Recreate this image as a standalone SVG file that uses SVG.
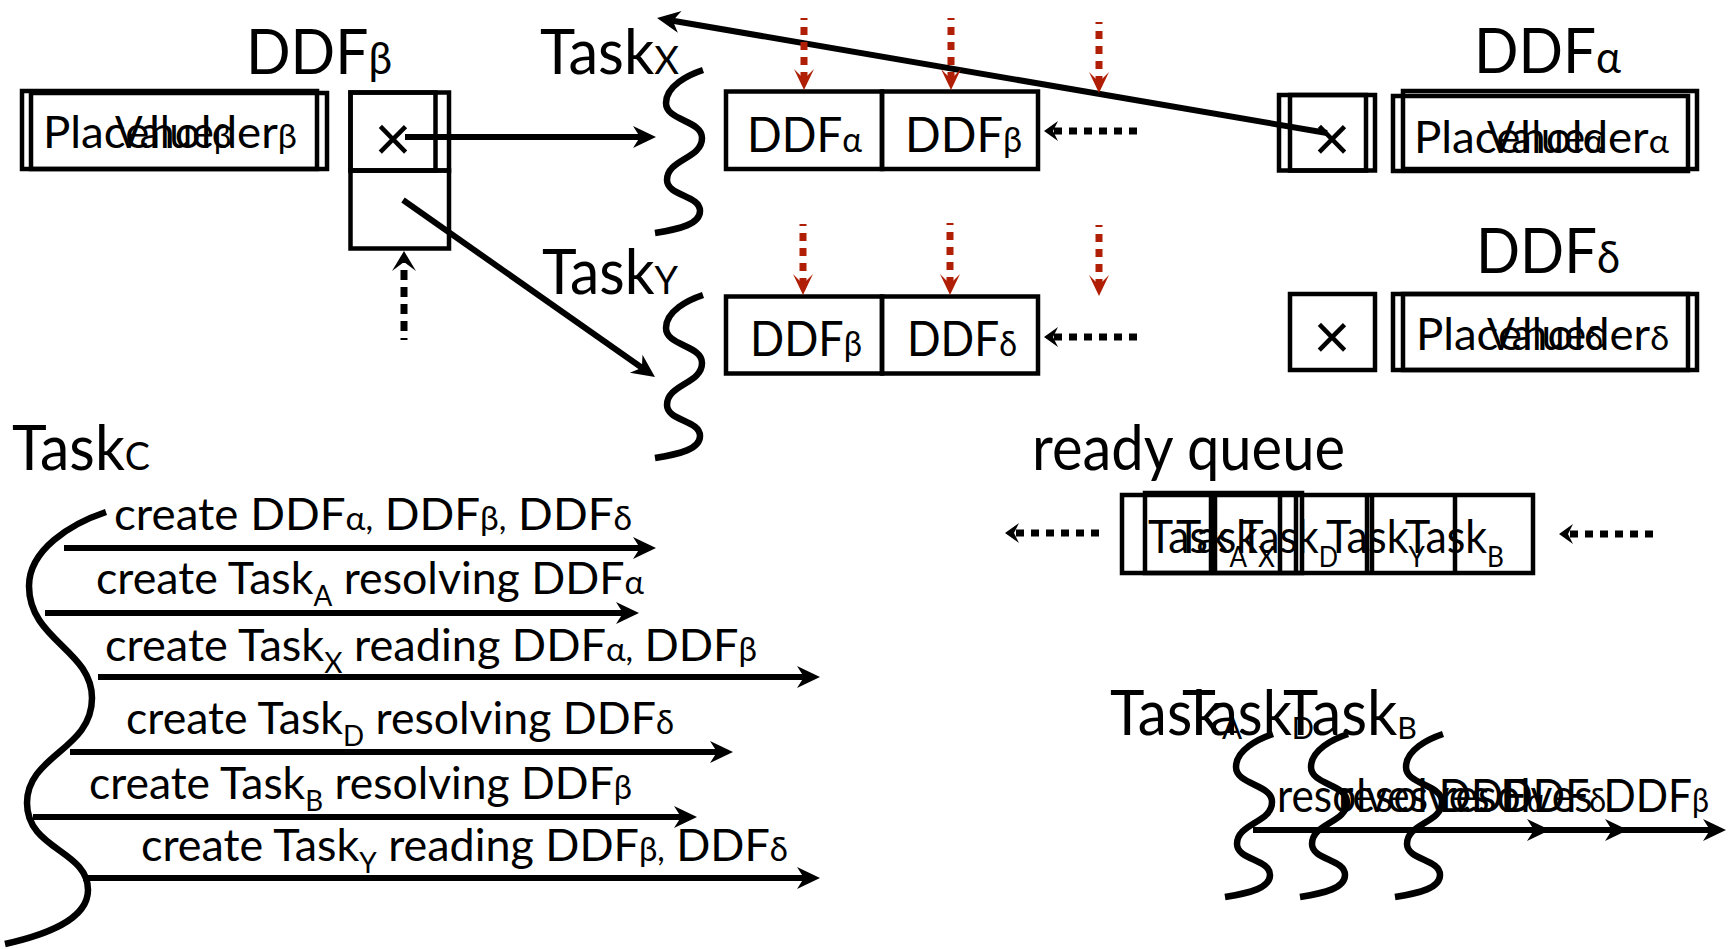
<svg xmlns="http://www.w3.org/2000/svg" width="1734" height="949" viewBox="0 0 1734 949">
<defs>
<style>
text { font-family: Lato, 'Liberation Sans', sans-serif; fill: #000; }
.box { fill: none; stroke: #000; stroke-width: 4.5; }
.ln { fill: none; stroke: #000; stroke-width: 6; }
.wave { fill: none; stroke: #000; stroke-width: 6.5; }
.red { fill: none; stroke: #b01e05; stroke-width: 7; stroke-dasharray: 8 7; stroke-dashoffset: 6; }
.dot { fill: none; stroke: #000; stroke-width: 7; stroke-dasharray: 8 7; }
.big { font-size: 61px; }
.mid { font-size: 45px; }
.cell { font-size: 48px; }
.ph { font-size: 44px; }
.rq { font-size: 46px; }
.g1 { font-size: 44px; }
.g2 { font-size: 35px; }
.g3 { font-size: 33px; }
.sb { font-size: 28px; }
.x { font-size: 64px; text-anchor: middle; font-family: 'Liberation Sans', sans-serif; }
</style>
<marker id="ah" viewBox="-1 -12 26 24" markerWidth="26" markerHeight="24" refX="7" refY="0" orient="auto" markerUnits="userSpaceOnUse"><path d="M0,-11 L23,0 L0,11 L7,0 Z" fill="#000"/></marker>
<marker id="rh" viewBox="-1 -11 23 22" markerWidth="23" markerHeight="22" refX="10" refY="0" orient="auto" markerUnits="userSpaceOnUse"><path d="M0,-10 L21,0 L0,10 L10,0 Z" fill="#b01e05"/></marker>
<marker id="dh" viewBox="-1 -11 16 22" markerWidth="16" markerHeight="22" refX="5" refY="0" orient="auto" markerUnits="userSpaceOnUse"><path d="M0,-10 L14,0 L0,10 L5,0 Z" fill="#000"/></marker>
<marker id="uh" viewBox="-1 -13 23 26" markerWidth="23" markerHeight="26" refX="9" refY="0" orient="auto" markerUnits="userSpaceOnUse"><path d="M0,-12 L20,0 L0,12 L9,0 Z" fill="#000"/></marker>
<path id="wv" d="M0,0 C-15,5 -37,16 -37,33 C-37,51 -1,50 -1,68 C-1,89 -36,89 -36,110 C-36,126 -3,125 -3,141 C-3,154 -23,159 -48,163"/>
</defs>

<g id="ddf-beta">
<text class="big" x="246" y="74" textLength="146" lengthAdjust="spacingAndGlyphs">DDF<tspan class="g1">β</tspan></text>
<rect class="box" x="22" y="91" width="295" height="78"/>
<rect class="box" x="31" y="93" width="296" height="76"/>
<text class="ph" x="43" y="148" textLength="254" lengthAdjust="spacingAndGlyphs">Placeholder<tspan class="g3">β</tspan></text>
<text class="ph" x="115" y="148" textLength="116" lengthAdjust="spacingAndGlyphs">Value<tspan class="g3">β</tspan></text>
<rect class="box" x="350.5" y="92.5" width="98.5" height="78"/>
<rect class="box" x="350.5" y="92.5" width="85" height="78"/>
<rect class="box" x="350.5" y="170.5" width="98.5" height="78"/>
<text class="x" x="393" y="161">×</text>
</g>

<g id="task-x">
<text class="big" x="540" y="74" textLength="139" lengthAdjust="spacingAndGlyphs">Task<tspan font-size="39">X</tspan></text>
<use href="#wv" class="wave" transform="translate(703,70)"/>
<rect class="box" x="726" y="91.5" width="156" height="77.5"/>
<rect class="box" x="882" y="91.5" width="156" height="77.5"/>
<text class="cell" x="747" y="152" textLength="115" lengthAdjust="spacingAndGlyphs">DDF<tspan class="g2">α</tspan></text>
<text class="cell" x="905" y="152" textLength="117" lengthAdjust="spacingAndGlyphs">DDF<tspan class="g2">β</tspan></text>
</g>

<g id="task-y">
<text class="big" x="542" y="294" textLength="136" lengthAdjust="spacingAndGlyphs">Task<tspan font-size="39">Y</tspan></text>
<use href="#wv" class="wave" transform="translate(703,295)"/>
<rect class="box" x="726" y="296.5" width="156" height="77"/>
<rect class="box" x="882" y="296.5" width="156" height="77"/>
<text class="cell" x="750" y="356" textLength="112" lengthAdjust="spacingAndGlyphs">DDF<tspan class="g2">β</tspan></text>
<text class="cell" x="907" y="356" textLength="110" lengthAdjust="spacingAndGlyphs">DDF<tspan class="g2">δ</tspan></text>
</g>

<g id="ddf-alpha">
<text class="big" x="1474" y="73" textLength="147" lengthAdjust="spacingAndGlyphs">DDF<tspan class="g1">α</tspan></text>
<rect class="box" x="1279" y="95" width="87" height="75.5"/>
<rect class="box" x="1290" y="95" width="85" height="75.5"/>
<text class="x" x="1332" y="161">×</text>
<rect class="box" x="1393" y="96" width="295" height="75"/>
<rect class="box" x="1403" y="91" width="294" height="78"/>
<text class="ph" x="1414" y="153" textLength="255" lengthAdjust="spacingAndGlyphs">Placeholder<tspan class="g3">α</tspan></text>
<text class="ph" x="1487" y="153" textLength="116" lengthAdjust="spacingAndGlyphs">Value<tspan class="g3">α</tspan></text>
</g>

<g id="ddf-delta">
<text class="big" x="1476" y="273" textLength="144" lengthAdjust="spacingAndGlyphs">DDF<tspan class="g1">δ</tspan></text>
<rect class="box" x="1290" y="294" width="85" height="76"/>
<text class="x" x="1332" y="359">×</text>
<rect class="box" x="1393" y="294" width="295" height="76"/>
<rect class="box" x="1403" y="294" width="294" height="76"/>
<text class="ph" x="1416" y="350" textLength="253" lengthAdjust="spacingAndGlyphs">Placeholder<tspan class="g3">δ</tspan></text>
<text class="ph" x="1487" y="350" textLength="116" lengthAdjust="spacingAndGlyphs">Value<tspan class="g3">δ</tspan></text>
</g>

<g id="task-c">
<text class="big" x="12" y="470" textLength="138" lengthAdjust="spacingAndGlyphs">Task<tspan font-size="39">C</tspan></text>
<path class="wave" d="M106,512 C70,524 29,550 29,586 C29,640 92,650 92,698 C92,750 27,755 27,803 C27,850 88,850 88,890 C88,920 45,935 5,944"/>
<text class="mid" x="114" y="530" textLength="518" lengthAdjust="spacingAndGlyphs">create DDF<tspan class="g3">α,</tspan> DDF<tspan class="g3">β,</tspan> DDF<tspan class="g3">δ</tspan></text>
<text class="mid" x="96" y="594" textLength="548" lengthAdjust="spacingAndGlyphs">create Task<tspan class="sb" dy="12">A</tspan><tspan dy="-12"> resolving DDF</tspan><tspan class="g3">α</tspan></text>
<text class="mid" x="105" y="661" textLength="652" lengthAdjust="spacingAndGlyphs">create Task<tspan class="sb" dy="12">X</tspan><tspan dy="-12"> reading DDF</tspan><tspan class="g3">α,</tspan> DDF<tspan class="g3">β</tspan></text>
<text class="mid" x="126" y="734" textLength="548" lengthAdjust="spacingAndGlyphs">create Task<tspan class="sb" dy="12">D</tspan><tspan dy="-12"> resolving DDF</tspan><tspan class="g3">δ</tspan></text>
<text class="mid" x="89" y="799" textLength="543" lengthAdjust="spacingAndGlyphs">create Task<tspan class="sb" dy="12">B</tspan><tspan dy="-12"> resolving DDF</tspan><tspan class="g3">β</tspan></text>
<text class="mid" x="141" y="861" textLength="647" lengthAdjust="spacingAndGlyphs">create Task<tspan class="sb" dy="12">Y</tspan><tspan dy="-12"> reading DDF</tspan><tspan class="g3">β,</tspan> DDF<tspan class="g3">δ</tspan></text>
</g>

<g id="ready-queue">
<text class="big" x="1032" y="470" textLength="313" lengthAdjust="spacingAndGlyphs">ready queue</text>
<rect class="box" x="1122" y="495" width="411" height="78"/>
<rect class="box" x="1145" y="493" width="157" height="80"/>
<path class="box" d="M1211,495 V573 M1215,495 V573 M1280,495 V573 M1296,495 V573 M1367,495 V573 M1372,495 V573 M1455,495 V573"/>
<text class="rq" x="1148" y="553" textLength="99" lengthAdjust="spacingAndGlyphs">Task<tspan class="sb" dy="14">A</tspan></text>
<text class="rq" x="1176" y="553" textLength="99" lengthAdjust="spacingAndGlyphs">Task<tspan class="sb" dy="14">X</tspan></text>
<text class="rq" x="1239" y="553" textLength="99" lengthAdjust="spacingAndGlyphs">Task<tspan class="sb" dy="14">D</tspan></text>
<text class="rq" x="1326" y="553" textLength="99" lengthAdjust="spacingAndGlyphs">Task<tspan class="sb" dy="14">Y</tspan></text>
<text class="rq" x="1405" y="553" textLength="99" lengthAdjust="spacingAndGlyphs">Task<tspan class="sb" dy="14">B</tspan></text>
</g>

<g id="task-a">
<text class="big" x="1110" y="735" textLength="132" lengthAdjust="spacingAndGlyphs">Task<tspan font-size="31" dy="4">A</tspan></text>
<use href="#wv" class="wave" transform="translate(1273,734)"/>
<text class="rq" x="1277" y="812" textLength="268" lengthAdjust="spacingAndGlyphs">resolves DDF<tspan class="g3">α</tspan></text>
</g>
<g id="task-d">
<text class="big" x="1182" y="735" textLength="132" lengthAdjust="spacingAndGlyphs">Task<tspan font-size="31" dy="4">D</tspan></text>
<use href="#wv" class="wave" transform="translate(1348,734)"/>
<text class="rq" x="1338" y="812" textLength="268" lengthAdjust="spacingAndGlyphs">resolves DDF<tspan class="g3">δ</tspan></text>
</g>
<g id="task-b">
<text class="big" x="1283" y="735" textLength="134" lengthAdjust="spacingAndGlyphs">Task<tspan font-size="31" dy="4">B</tspan></text>
<use href="#wv" class="wave" transform="translate(1443,734)"/>
<text class="rq" x="1441" y="812" textLength="268" lengthAdjust="spacingAndGlyphs">resolves DDF<tspan class="g3">β</tspan></text>
</g>

<g id="connectors">
<path class="ln" d="M405,137 H640" marker-end="url(#ah)"/>
<path class="ln" d="M403,200 L641.9,367.8" marker-end="url(#ah)"/>
<path class="ln" d="M1327,133 L672.8,20.7" marker-end="url(#ah)"/>
<path class="dot" d="M404,340 V262" style="stroke-dasharray:10 7;stroke-dashoffset:8" marker-end="url(#uh)"/>
<path class="red" d="M804,18 V79" marker-end="url(#rh)"/>
<path class="red" d="M951,18 V79" marker-end="url(#rh)"/>
<path class="red" d="M1099,22 V82" marker-end="url(#rh)"/>
<path class="red" d="M803,224 V284" marker-end="url(#rh)"/>
<path class="red" d="M950,223 V284" marker-end="url(#rh)"/>
<path class="red" d="M1099,225 V285" marker-end="url(#rh)"/>
<path class="dot" d="M1137,131 H1053" marker-end="url(#dh)"/>
<path class="dot" d="M1137,337 H1053" marker-end="url(#dh)"/>
<path class="dot" d="M1099,533 H1014" marker-end="url(#dh)"/>
<path class="dot" d="M1653,534 H1568" marker-end="url(#dh)"/>
<path class="ln" d="M64,548 H640" marker-end="url(#ah)"/>
<path class="ln" d="M45,613 H623" marker-end="url(#ah)"/>
<path class="ln" d="M98,677 H804" marker-end="url(#ah)"/>
<path class="ln" d="M70,752 H717" marker-end="url(#ah)"/>
<path class="ln" d="M33,817 H681" marker-end="url(#ah)"/>
<path class="ln" d="M83,878 H804" marker-end="url(#ah)"/>
<path class="ln" d="M1253,830 H1534" marker-end="url(#ah)"/>
<path class="ln" d="M1330,830 H1612" marker-end="url(#ah)"/>
<path class="ln" d="M1420,830 H1710" marker-end="url(#ah)"/>
</g>
</svg>
